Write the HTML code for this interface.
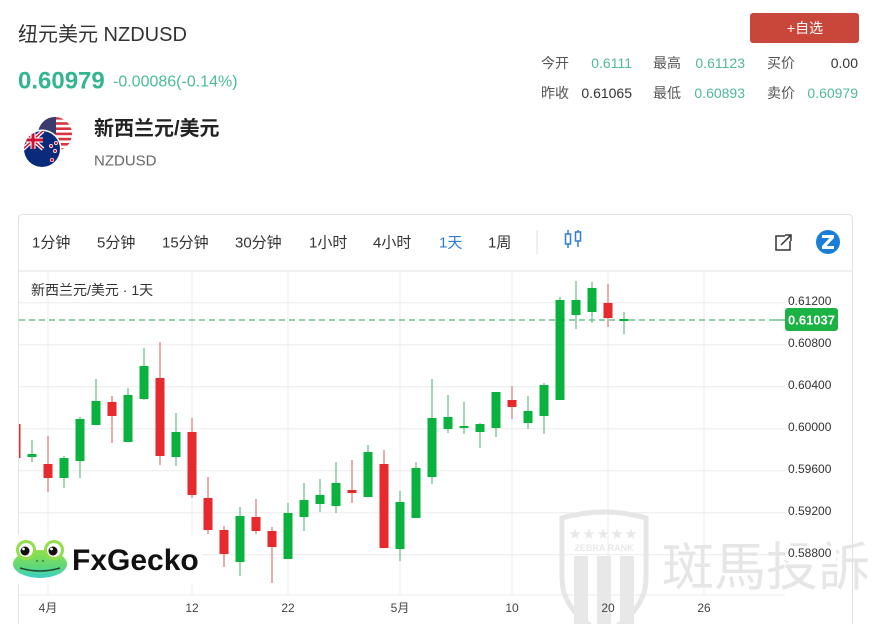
<!DOCTYPE html>
<html><head><meta charset="utf-8"><style>
html,body{margin:0;padding:0;background:#fff;width:884px;height:624px;overflow:hidden}
svg{display:block;font-family:"Liberation Sans","Noto Sans CJK SC",sans-serif}
</style></head><body>
<svg width="884" height="624" viewBox="0 0 884 624" xmlns="http://www.w3.org/2000/svg">
<defs>
<clipPath id="plot"><rect x="19" y="271" width="766" height="324"/></clipPath>
<clipPath id="us"><circle cx="55" cy="134" r="17"/></clipPath>
<clipPath id="nz"><circle cx="42" cy="149" r="18"/></clipPath>
<linearGradient id="frog" x1="0" y1="0" x2="0" y2="1"><stop offset="0" stop-color="#8fe04a"/><stop offset="0.6" stop-color="#5fd87a"/><stop offset="1" stop-color="#3ad0c8"/></linearGradient>
</defs>

<!-- Header -->
<text x="18" y="35" font-size="20" fill="#333" dominant-baseline="central">纽元美元 NZDUSD</text>
<text x="18" y="81" font-size="24" font-weight="bold" fill="#33b58d" dominant-baseline="central">0.60979</text>
<text x="113" y="82" font-size="16" fill="#4dbb97" dominant-baseline="central">-0.00086(-0.14%)</text>

<!-- flags -->
<g clip-path="url(#us)">
<rect x="36" y="115" width="40" height="40" fill="#fff"/>
<g fill="#d8343f">
<rect x="36" y="117" width="40" height="2.6"/><rect x="36" y="122.2" width="40" height="2.6"/><rect x="36" y="127.4" width="40" height="2.6"/><rect x="36" y="132.6" width="40" height="2.6"/><rect x="36" y="137.8" width="40" height="2.6"/><rect x="36" y="143" width="40" height="2.6"/><rect x="36" y="148.2" width="40" height="2.6"/>
</g>
<rect x="36" y="115" width="20" height="19" fill="#3c3b6e"/>
</g>
<circle cx="42" cy="149" r="19.5" fill="#fff"/>
<g clip-path="url(#nz)">
<rect x="22" y="129" width="40" height="40" fill="#0a2a7a"/>
<path d="M23 131 L43 149 M43 131 L23 149" stroke="#fff" stroke-width="4"/>
<path d="M23 131 L43 149 M43 131 L23 149" stroke="#d21034" stroke-width="1.5"/>
<path d="M33 130 V149 M23 140 H43" stroke="#fff" stroke-width="5"/>
<path d="M33 130 V149 M23 140 H43" stroke="#d21034" stroke-width="3"/>
<g fill="#d21034" stroke="#fff" stroke-width="0.7">
<circle cx="51" cy="146" r="1.6"/><circle cx="56" cy="143" r="1.6"/><circle cx="55" cy="151" r="1.6"/><circle cx="52" cy="160" r="1.8"/>
</g>
</g>
<text x="94" y="129" font-size="20" font-weight="bold" fill="#222" dominant-baseline="central">新西兰元/美元</text>
<text x="94" y="161" font-size="15" fill="#666" dominant-baseline="central">NZDUSD</text>

<!-- top right -->
<rect x="750" y="13" width="109" height="30" rx="3" fill="#c9473a"/>
<text x="805" y="28" font-size="14" fill="#fff" text-anchor="middle" dominant-baseline="central">+自选</text>
<g font-size="14" dominant-baseline="central">
<text x="541" y="63" fill="#555">今开</text>
<text x="632" y="63" fill="#50b99a" text-anchor="end">0.6111</text>
<text x="653" y="63" fill="#555">最高</text>
<text x="745" y="63" fill="#50b99a" text-anchor="end">0.61123</text>
<text x="767" y="63" fill="#555">买价</text>
<text x="858" y="63" fill="#333" text-anchor="end">0.00</text>
<text x="541" y="93" fill="#555">昨收</text>
<text x="632" y="93" fill="#333" text-anchor="end">0.61065</text>
<text x="653" y="93" fill="#555">最低</text>
<text x="745" y="93" fill="#50b99a" text-anchor="end">0.60893</text>
<text x="767" y="93" fill="#555">卖价</text>
<text x="858" y="93" fill="#50b99a" text-anchor="end">0.60979</text>
</g>

<!-- card -->
<rect x="18.5" y="214.5" width="834" height="430" rx="4" fill="#fff" stroke="#e2e2e2"/>
<g font-size="15" fill="#333" dominant-baseline="central">
<text x="32" y="243">1分钟</text>
<text x="97" y="243">5分钟</text>
<text x="162" y="243">15分钟</text>
<text x="235" y="243">30分钟</text>
<text x="309" y="243">1小时</text>
<text x="373" y="243">4小时</text>
<text x="439" y="243" fill="#2b7bd3">1天</text>
<text x="488" y="243">1周</text>
</g>
<line x1="537" y1="230" x2="537" y2="254" stroke="#ddd"/>
<g stroke="#2f7fd2" stroke-width="1.5" fill="none">
<line x1="568" y1="230" x2="568" y2="248"/><rect x="565.5" y="234" width="5" height="10" fill="#fff"/>
<line x1="578" y1="230" x2="578" y2="247"/><rect x="575.5" y="232" width="5" height="9" fill="#fff"/>
</g>
<g stroke="#333" stroke-width="1.5" fill="none">
<path d="M785 236 H776 V250 H790 V241"/><path d="M781 245 L791 235"/><path d="M785 235 H791 V241"/>
</g>
<circle cx="828" cy="242" r="12" fill="#1b7fd8"/>
<path d="M822 235 H834 V238 L826.5 246 H834 V249 H822 V246 L829.5 238 H822 Z" fill="#fff"/>
<line x1="19" y1="271" x2="852" y2="271" stroke="#e2e2e2"/>

<!-- grid -->
<g stroke="#ebebeb" stroke-width="1">
<line x1="48" y1="271" x2="48" y2="595"/><line x1="192" y1="271" x2="192" y2="595"/><line x1="288" y1="271" x2="288" y2="595"/><line x1="400" y1="271" x2="400" y2="595"/><line x1="512" y1="271" x2="512" y2="595"/><line x1="608" y1="271" x2="608" y2="595"/><line x1="704" y1="271" x2="704" y2="595"/>
<line x1="19" y1="302.7" x2="785" y2="302.7"/><line x1="19" y1="344.7" x2="785" y2="344.7"/><line x1="19" y1="386.7" x2="785" y2="386.7"/><line x1="19" y1="428.7" x2="785" y2="428.7"/><line x1="19" y1="470.7" x2="785" y2="470.7"/><line x1="19" y1="512.7" x2="785" y2="512.7"/><line x1="19" y1="554.7" x2="785" y2="554.7"/><line x1="19" y1="595" x2="785" y2="595"/>
</g>
<text x="31" y="290" font-size="14" fill="#333" dominant-baseline="central">新西兰元/美元 · 1天</text>

<!-- zebra watermark -->
<g fill="none" stroke="#e6e6e6" stroke-width="5">
<path d="M562 518 Q604 506 646 518 L646 578 Q646 612 604 634 Q562 612 562 578 Z"/>
</g>
<g fill="#e8e8e8">
<text x="604" y="534" font-size="12" text-anchor="middle" dominant-baseline="central" letter-spacing="2">★★★★★</text>
<text x="604" y="548" font-size="9" font-weight="bold" text-anchor="middle" dominant-baseline="central">ZEBRA RANK</text>
<rect x="574" y="556" width="14" height="68"/><rect x="597" y="556" width="14" height="68"/><rect x="620" y="556" width="14" height="68"/>
</g>
<text x="662" y="563" font-size="52" fill="#e6e6e6" dominant-baseline="central" font-family="'Noto Sans CJK TC',sans-serif">斑馬投訴</text>

<!-- candles -->
<g clip-path="url(#plot)">
<line x1="19" y1="320" x2="785" y2="320" stroke="#22a35a" stroke-width="1" stroke-dasharray="6 4"/>
<g stroke="#7cc493" stroke-width="1.4">
<line x1="32" y1="440" x2="32" y2="462"/><line x1="64" y1="456" x2="64" y2="488"/><line x1="80" y1="417" x2="80" y2="478"/><line x1="96" y1="379" x2="96" y2="425"/><line x1="128" y1="388" x2="128" y2="442"/><line x1="144" y1="348" x2="144" y2="400"/><line x1="176" y1="413" x2="176" y2="466"/><line x1="240" y1="507" x2="240" y2="576"/><line x1="288" y1="503" x2="288" y2="559"/><line x1="304" y1="483" x2="304" y2="531"/><line x1="320" y1="479" x2="320" y2="512"/><line x1="336" y1="462" x2="336" y2="513"/><line x1="368" y1="445" x2="368" y2="497"/><line x1="400" y1="491" x2="400" y2="561"/><line x1="416" y1="462" x2="416" y2="518"/><line x1="432" y1="379" x2="432" y2="484"/><line x1="448" y1="395" x2="448" y2="433"/><line x1="464" y1="402" x2="464" y2="434"/><line x1="480" y1="423" x2="480" y2="448"/><line x1="496" y1="392" x2="496" y2="437"/><line x1="528" y1="396" x2="528" y2="429"/><line x1="544" y1="383" x2="544" y2="434"/><line x1="560" y1="297" x2="560" y2="400"/><line x1="576" y1="281" x2="576" y2="329"/><line x1="592" y1="282" x2="592" y2="323"/><line x1="624" y1="312" x2="624" y2="334"/>
</g>
<g stroke="#dc8a8a" stroke-width="1.4">
<line x1="16" y1="424" x2="16" y2="458"/><line x1="48" y1="436" x2="48" y2="492"/><line x1="112" y1="396" x2="112" y2="443"/><line x1="160" y1="342" x2="160" y2="465"/><line x1="192" y1="418" x2="192" y2="498"/><line x1="208" y1="477" x2="208" y2="534"/><line x1="224" y1="526" x2="224" y2="567"/><line x1="256" y1="499" x2="256" y2="534"/><line x1="272" y1="527" x2="272" y2="583"/><line x1="352" y1="460" x2="352" y2="503"/><line x1="384" y1="450" x2="384" y2="548"/><line x1="512" y1="386" x2="512" y2="419"/><line x1="608" y1="284" x2="608" y2="327"/>
</g>
<g fill="#08b23d">
<rect x="27.5" y="454" width="9" height="3"/><rect x="59.5" y="458" width="9" height="20"/><rect x="75.5" y="419" width="9" height="42"/><rect x="91.5" y="401" width="9" height="24"/><rect x="123.5" y="395" width="9" height="47"/><rect x="139.5" y="366" width="9" height="33"/><rect x="171.5" y="432" width="9" height="25"/><rect x="235.5" y="516" width="9" height="46"/><rect x="283.5" y="513" width="9" height="46"/><rect x="299.5" y="500" width="9" height="17"/><rect x="315.5" y="495" width="9" height="9"/><rect x="331.5" y="483" width="9" height="23"/><rect x="363.5" y="452" width="9" height="45"/><rect x="395.5" y="502" width="9" height="47"/><rect x="411.5" y="468" width="9" height="50"/><rect x="427.5" y="418" width="9" height="59"/><rect x="443.5" y="417" width="9" height="12"/><rect x="459.5" y="426" width="9" height="2"/><rect x="475.5" y="424" width="9" height="8"/><rect x="491.5" y="392" width="9" height="36"/><rect x="523.5" y="411" width="9" height="12"/><rect x="539.5" y="385" width="9" height="31"/><rect x="555.5" y="300" width="9" height="100"/><rect x="571.5" y="300" width="9" height="15"/><rect x="587.5" y="288" width="9" height="24"/><rect x="619.5" y="319" width="9" height="2"/>
</g>
<g fill="#e62a2b">
<rect x="11.5" y="424" width="9" height="34"/><rect x="43.5" y="464" width="9" height="14"/><rect x="107.5" y="402" width="9" height="14"/><rect x="155.5" y="378" width="9" height="78"/><rect x="187.5" y="432" width="9" height="63"/><rect x="203.5" y="498" width="9" height="32"/><rect x="219.5" y="530" width="9" height="24"/><rect x="251.5" y="517" width="9" height="14"/><rect x="267.5" y="531" width="9" height="16"/><rect x="347.5" y="490" width="9" height="3"/><rect x="379.5" y="464" width="9" height="84"/><rect x="507.5" y="400" width="9" height="7"/><rect x="603.5" y="303" width="9" height="15"/>
</g>
</g>
<line x1="775" y1="320" x2="781" y2="320" stroke="#22a35a"/>

<!-- y axis -->
<g font-size="12" fill="#333" dominant-baseline="central">
<text x="788" y="301">0.61200</text>
<text x="788" y="343">0.60800</text>
<text x="788" y="385">0.60400</text>
<text x="788" y="427">0.60000</text>
<text x="788" y="469">0.59600</text>
<text x="788" y="511">0.59200</text>
<rect x="786" y="546" width="50" height="15" fill="#fff"/>
<text x="788" y="553">0.58800</text>
</g>
<rect x="785" y="308" width="53" height="23" rx="3" fill="#1db344"/>
<text x="811.5" y="320" font-size="13" font-weight="bold" fill="#fff" text-anchor="middle" dominant-baseline="central">0.61037</text>

<!-- x axis -->
<g font-size="12" fill="#444" text-anchor="middle" dominant-baseline="central">
<text x="48" y="608">4月</text><text x="192" y="608">12</text><text x="288" y="608">22</text><text x="400" y="608">5月</text><text x="512" y="608">10</text><text x="608" y="608">20</text><text x="704" y="608">26</text>
</g>

<!-- FxGecko logo -->
<rect x="10" y="535" width="192" height="49" fill="#fff"/>
<ellipse cx="40" cy="564" rx="27" ry="14" fill="url(#frog)"/>
<circle cx="26" cy="550" r="10" fill="#8fe04a"/>
<circle cx="54" cy="550" r="10" fill="#8fe04a"/>
<circle cx="26" cy="550" r="7" fill="#fff"/>
<circle cx="54" cy="550" r="7" fill="#fff"/>
<circle cx="25" cy="551" r="4.5" fill="#111"/>
<circle cx="53" cy="551" r="4.5" fill="#111"/>
<circle cx="23.5" cy="549" r="1.4" fill="#fff"/>
<circle cx="51.5" cy="549" r="1.4" fill="#fff"/>
<path d="M20 568 Q40 574 60 568" stroke="#1d4a30" stroke-width="1.5" fill="none"/>
<circle cx="37" cy="561" r="0.9" fill="#2a5a3a"/><circle cx="43" cy="561" r="0.9" fill="#2a5a3a"/>
<text x="72" y="570" font-size="30" font-weight="bold" fill="#111">FxGecko</text>
</svg>
</body></html>
